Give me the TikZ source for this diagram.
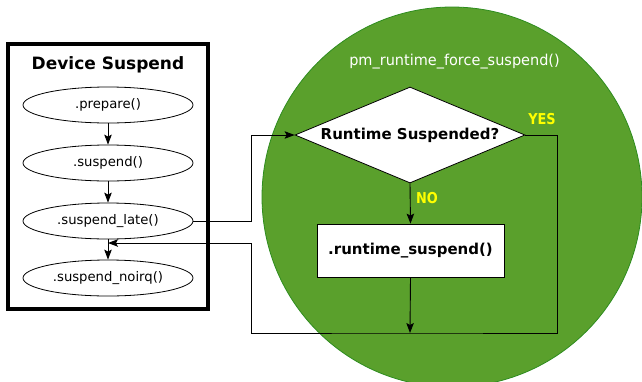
\documentclass[tikz,border=0pt]{standalone}
\usepackage{fontspec}
\setmainfont{DejaVu Sans}
\usetikzlibrary{shapes.geometric,arrows.meta}
\definecolor{cgreen}{RGB}{90,160,44}
\definecolor{cgreenb}{RGB}{45,140,30}
\definecolor{cyel}{RGB}{255,255,0}
\tikzset{
  ell/.style={ellipse,draw,line width=0.8pt,minimum width=170pt,minimum height=36pt,inner sep=0pt,font=\fontsize{13.2}{15}\selectfont},
  conn/.style={line width=0.9pt},
  arr/.style={conn,-{Stealth[length=10pt,width=7.5pt,inset=2pt]}},
  lbl/.style={text=cyel,font=\bfseries\fontsize{15}{17}\selectfont\addfontfeature{FakeStretch=0.86}}
}
\begin{document}
\begin{tikzpicture}[x=1pt,y=-1pt]
\useasboundingbox (0,0) rectangle (642,381);
% green circle
\fill[cgreen,draw=cgreenb,line width=0.8pt] (452,197) circle (190);
% device suspend box
\node[draw,line width=3.5pt,minimum width=200pt,minimum height=265pt,inner sep=0pt] (box) at (108,176.5) {};
\node[font=\bfseries\fontsize{17}{20}\selectfont] (title) at (108,65) {Device Suspend};
\node[ell] (prep) at (108,105) {.prepare()};
\node[ell] (susp) at (108,163) {.suspend()};
\node[ell] (late) at (108,221) {.suspend\_late()};
\node[ell] (noirq) at (108,278) {.suspend\_noirq()};
% right side
\node[text=white,font=\fontsize{15}{17}\selectfont\addfontfeature{FakeStretch=0.965}] (force) at (454.5,62) {pm\_runtime\_force\_suspend()};
\node[diamond,draw,fill=white,line width=0.8pt,minimum width=230pt,minimum height=96pt,inner sep=0pt,shape aspect=2.4,font=\bfseries\fontsize{15}{17}\selectfont] (dia) at (410,135) {Runtime Suspended?};
\node[draw,fill=white,line width=0.8pt,minimum width=187pt,minimum height=53pt,inner sep=0pt,font=\bfseries\fontsize{15}{17}\selectfont] (rs) at (410.5,250.5) {.runtime\_suspend()};
\node[lbl] (yes) at (542,119) {YES};
\node[lbl] (no) at (427,198) {NO};
\coordinate (merge) at (410,333);
\coordinate (join) at (108,243);
% connectors
\draw[arr] (prep) -- (susp);
\draw[arr] (susp) -- (late);
\draw[arr] (late) -- (noirq);
\draw[arr] (late.east) -- (251,221) -- (251,135) -- (dia.west);
\draw[arr] (dia.south) -- (rs.north);
\draw[arr] (rs.south) -- (merge);
\draw[arr] (dia.east) -- (557,135) -- (557,333) -- (merge) -- (251,333) -- (251,243) -- (join);
\end{tikzpicture}
\end{document}
